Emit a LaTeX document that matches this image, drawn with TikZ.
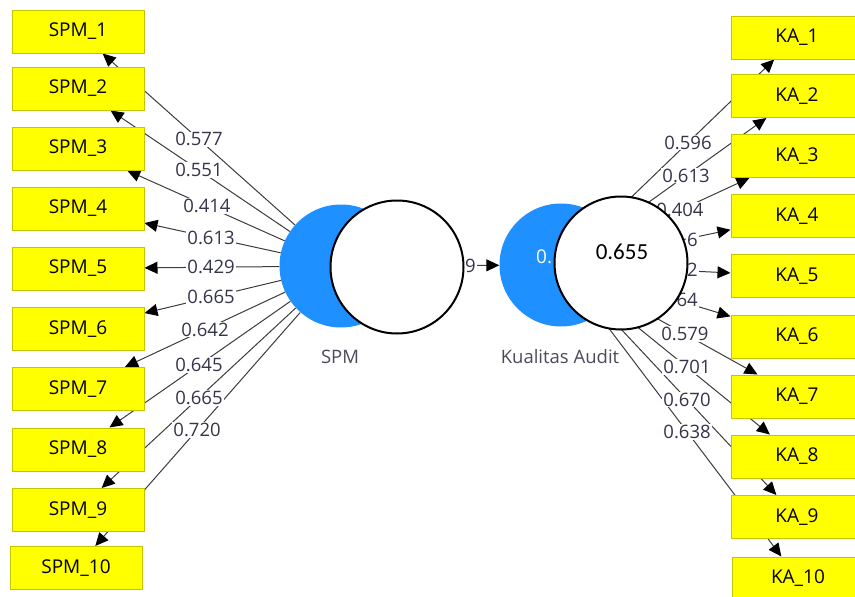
\documentclass[tikz,border=0pt]{standalone}
\usepackage{fontspec}
\setmainfont{Open Sans}
\newfontfamily\calfont{Carlito}
\usetikzlibrary{arrows.meta,calc}
\pgfdeclarelayer{bg}
\pgfdeclarelayer{lbl}
\pgfsetlayers{bg,lbl,main}
\definecolor{boxfill}{HTML}{FFFF00}
\definecolor{boxline}{HTML}{C4C400}
\definecolor{lv}{HTML}{1E90FF}
\definecolor{edge}{HTML}{3C3C3C}
\definecolor{numtxt}{HTML}{34344A}
\definecolor{lvtxt}{HTML}{4A4A5A}
\begin{document}
\begin{tikzpicture}[x=1pt,y=-1pt,
  ind/.style={rectangle, draw=boxline, line width=1pt, fill=boxfill, minimum width=132pt, minimum height=43pt, inner sep=0pt, font=\fontsize{19}{22}\selectfont},
  lat/.style={circle, fill=lv, minimum size=123pt, inner sep=0pt},
  cover/.style={circle, draw=black, line width=2pt, fill=white, minimum size=133pt, inner sep=0pt},
  conn/.style={draw=edge, line width=1pt, -{Triangle[length=13pt,width=12pt,color=black]}},
  num/.style={fill=white, inner sep=1pt, text=numtxt, font=\fontsize{18.5}{20}\selectfont},
  lvname/.style={text=lvtxt, font=\fontsize{18.5}{20}\selectfont},
]
\useasboundingbox (0,0) rectangle (855,597);
% latent variables
\node[lat] (spm) at (341,266) {};
\node[lat] (ka) at (561,265) {};
\node[text=white, anchor=west, inner sep=0pt, font=\fontsize{19}{22}\selectfont] (r2) at (536,257) {0.};
\node[cover] (w1) at (397,267) {};
\node[cover] (w2) at (621,263) {};
\node[font=\calfont\fontsize{23}{25}\selectfont] (r2b) at (622,252) {0.655};
\node[lvname] (spmname) at (340,357) {SPM};
\node[lvname] (kaname) at (560,357) {Kualitas Audit};
% indicators left
\node[ind] (s1) at (78,31.5) {SPM\_1};
\node[ind] (s2) at (78,88.5) {SPM\_2};
\node[ind] (s3) at (78,148.5) {SPM\_3};
\node[ind] (s4) at (78,208.5) {SPM\_4};
\node[ind] (s5) at (78,268.5) {SPM\_5};
\node[ind] (s6) at (78,329) {SPM\_6};
\node[ind] (s7) at (78,389) {SPM\_7};
\node[ind] (s8) at (78,449.5) {SPM\_8};
\node[ind] (s9) at (78,510) {SPM\_9};
\node[ind] (s10) at (76,568) {SPM\_10};
% indicators right
\node[ind] (k1) at (797,37.5) {KA\_1};
\node[ind] (k2) at (797,96) {KA\_2};
\node[ind] (k3) at (797,156) {KA\_3};
\node[ind] (k4) at (797,216) {KA\_4};
\node[ind] (k5) at (797,276) {KA\_5};
\node[ind] (k6) at (797,336.5) {KA\_6};
\node[ind] (k7) at (797,396.5) {KA\_7};
\node[ind] (k8) at (797,456.5) {KA\_8};
\node[ind] (k9) at (797,517) {KA\_9};
\node[ind] (k10) at (798,578.5) {KA\_10};
% connectors
\begin{pgfonlayer}{bg}
\foreach \t in {s1,s2,s3,s4,s5,s6,s7,s8,s9,s10} \draw[conn] (spm) -- (\t);
\foreach \t in {k1,k2,k3,k4,k5,k6,k7,k8,k9,k10} \draw[conn] (ka) -- (\t);
\draw[conn] (spm) -- (ka);
\end{pgfonlayer}
% loadings
\begin{pgfonlayer}{lbl}
\node[num] at ($(spm)!0.54!(s1)$) {0.577};
\node[num] at ($(spm)!0.54!(s2)$) {0.551};
\node[num] at ($(spm)!0.51!(s3)$) {0.414};
\node[num] at ($(spm)!0.494!(s4)$) {0.613};
\node[num] at ($(spm)!0.494!(s5)$) {0.429};
\node[num] at ($(spm)!0.494!(s6)$) {0.665};
\node[num] at ($(spm)!0.517!(s7)$) {0.642};
\node[num] at ($(spm)!0.54!(s8)$) {0.645};
\node[num] at ($(spm)!0.54!(s9)$) {0.665};
\node[num] at ($(spm)!0.543!(s10)$) {0.720};
\node[num] at ($(ka)!0.538!(k1)$) {0.596};
\node[num] at ($(ka)!0.53!(k2)$) {0.613};
\node[num] at ($(ka)!0.504!(k3)$) {0.404};
\node[num, anchor=east] at (699,240) {6};
\node[num, anchor=east] at (699,270) {2};
\node[num, anchor=east] at (699,300) {64};
\node[num] at ($(ka)!0.525!(k7)$) {0.579};
\node[num] at ($(ka)!0.534!(k8)$) {0.701};
\node[num] at ($(ka)!0.534!(k9)$) {0.670};
\node[num] at ($(ka)!0.532!(k10)$) {0.638};
\node[num, anchor=east] at (477,266) {9};
\end{pgfonlayer}
\end{tikzpicture}
\end{document}
